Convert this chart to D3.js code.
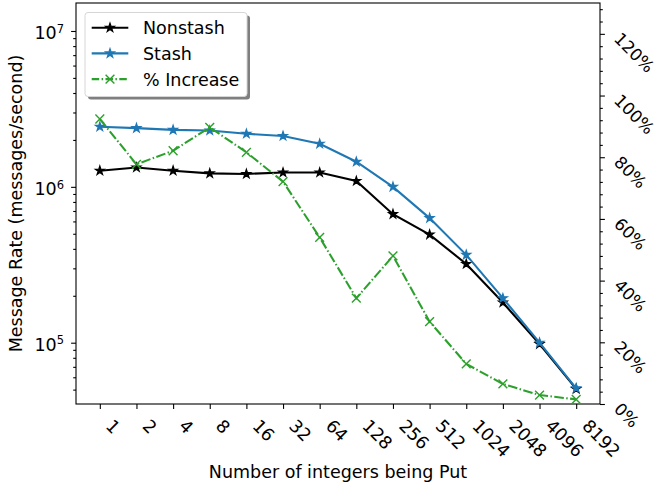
<!DOCTYPE html>
<html>
<head>
<meta charset="utf-8">
<script src="https://cdn.jsdelivr.net/npm/d3@7"></script>
<style>
body { margin: 0; background: #fff; }
text { font-family: "DejaVu Sans", sans-serif; fill: #000; }
</style>
</head>
<body>
<div id="chart"></div>
<script>
// data
const categories = ["1", "2", "4", "8", "16", "32", "64", "128", "256", "512", "1024", "2048", "4096", "8192"];
const nonstash = [1.27e6, 1.33e6, 1.27e6, 1.22e6, 1.21e6, 1.235e6, 1.235e6, 1.09e6, 6.68e5, 4.94e5, 3.2e5, 1.81e5, 9.8e4, 5.05e4];
const stash = [2.43e6, 2.38e6, 2.32e6, 2.30e6, 2.19e6, 2.12e6, 1.89e6, 1.45e6, 1.0e6, 6.3e5, 3.66e5, 1.93e5, 1.0e5, 5.1e4];
const increase = [92.4, 77.7, 82.1, 89.7, 81.6, 72.1, 54.0, 34.3, 48.0, 26.7, 13.0, 6.5, 2.9, 1.5];
const rateTicks = [1e5, 1e6, 1e7];
const pctTicks = [0, 20, 40, 60, 80, 100, 120];

const W = 657, H = 487;
const box = {left: 76, right: 600, top: 3, bottom: 404};
const fs = 17.5;

const svg = d3.select("#chart").append("svg")
	.attr("width", W)
	.attr("height", H);

//scales
const x = d3.scaleLinear().domain([-0.65, categories.length - 1 + 0.65]).range([box.left, box.right]);
const y = d3.scaleLog().domain([40430, 1.512e7]).range([box.bottom, box.top]);
const y2 = d3.scaleLinear().domain([0, 130]).range([box.bottom, box.top]);

//minor ticks
const logMinor = [];
for (let e = 4; e <= 7; e++) {
	for (let k = 2; k <= 9; k++) {
		const v = k * Math.pow(10, e);
		if (v > y.domain()[0] && v < y.domain()[1]) logMinor.push(v);
	}
}
const pctMinor = d3.range(0, 130, 4).filter(v => v % 20 !== 0);

function styleAxis(g) {
	g.select(".domain").remove();
	g.selectAll(".tick line").attr("stroke", "#000").attr("stroke-width", 1.1);
}

//x axis ticks + rotated labels
svg.append("g")
	.attr("transform", "translate(0," + box.bottom + ")")
	.call(d3.axisBottom(x).tickValues(d3.range(categories.length)).tickSize(4.9).tickFormat(""))
	.call(styleAxis);
svg.append("g").selectAll("text")
	.data(categories)
	.enter().append("text")
	.attr("transform", (d, i) => "translate(" + (x(i) + 5) + ",427) rotate(45)")
	.attr("font-size", fs)
	.attr("text-anchor", "start")
	.text(d => d);

//left log axis
svg.append("g")
	.attr("transform", "translate(" + box.left + ",0)")
	.call(d3.axisLeft(y).tickValues(logMinor).tickSize(2.8).tickFormat(""))
	.call(styleAxis);
svg.append("g")
	.attr("transform", "translate(" + box.left + ",0)")
	.call(d3.axisLeft(y).tickValues(rateTicks).tickSize(4.9).tickFormat(""))
	.call(styleAxis);
const rl = svg.append("g").selectAll("text")
	.data(rateTicks)
	.enter().append("text")
	.attr("x", 64)
	.attr("y", d => y(d) + 8.3)
	.attr("font-size", fs)
	.attr("text-anchor", "end");
rl.append("tspan").text("10");
rl.append("tspan")
	.attr("font-size", 11.5)
	.attr("dy", -6.6)
	.text(d => Math.round(Math.log10(d)));

//right percent axis
svg.append("g")
	.attr("transform", "translate(" + box.right + ",0)")
	.call(d3.axisRight(y2).tickValues(pctMinor).tickSize(2.8).tickFormat(""))
	.call(styleAxis);
svg.append("g")
	.attr("transform", "translate(" + box.right + ",0)")
	.call(d3.axisRight(y2).tickValues(pctTicks).tickSize(4.9).tickFormat(""))
	.call(styleAxis);
svg.append("g").selectAll("text")
	.data(pctTicks)
	.enter().append("text")
	.attr("transform", d => "translate(" + (box.right + 13) + "," + (y2(d) + 6) + ") rotate(45)")
	.attr("font-size", 16.8)
	.attr("text-anchor", "start")
	.text(d => d + "%");

//frame
svg.append("rect")
	.attr("x", box.left).attr("y", box.top)
	.attr("width", box.right - box.left).attr("height", box.bottom - box.top)
	.attr("fill", "none").attr("stroke", "#000").attr("stroke-width", 1.1);

//axis titles
svg.append("text")
	.attr("transform", "translate(22," + (box.top + box.bottom) / 2 + ") rotate(-90)")
	.attr("text-anchor", "middle")
	.attr("font-size", fs)
	.text("Message Rate (messages/second)");
svg.append("text")
	.attr("x", (box.left + box.right) / 2)
	.attr("y", 477.7)
	.attr("text-anchor", "middle")
	.attr("font-size", fs)
	.text("Number of integers being Put");

//series
const series = [
	{name: "Nonstash", values: nonstash, scale: y, color: "#000000", marker: "star", dash: null},
	{name: "Stash", values: stash, scale: y, color: "#1f77b4", marker: "star", dash: null},
	{name: "% Increase", values: increase, scale: y2, color: "#2ca02c", marker: "x", dash: "9.6,2.4,1.5,2.4"}
];

const star = d3.symbol().type(d3.symbolStar).size(24);

function drawMarker(g, kind, color) {
	if (kind === "star") {
		g.append("path")
			.attr("d", star())
			.attr("fill", color)
			.attr("stroke", color)
			.attr("stroke-width", 1.2)
			.attr("stroke-linejoin", "miter");
	} else {
		g.append("path")
			.attr("d", "M-4.4,-4.4L4.4,4.4M-4.4,4.4L4.4,-4.4")
			.attr("fill", "none")
			.attr("stroke", color)
			.attr("stroke-width", 1.4);
	}
}

series.forEach(function (s) {
	const line = d3.line()
		.x((d, i) => x(i))
		.y(d => s.scale(d));
	svg.append("path")
		.datum(s.values)
		.attr("d", line)
		.attr("fill", "none")
		.attr("stroke", s.color)
		.attr("stroke-width", 2.08)
		.attr("stroke-dasharray", s.dash);
	s.values.forEach(function (v, i) {
		const g = svg.append("g").attr("transform", "translate(" + x(i) + "," + s.scale(v) + ")");
		drawMarker(g, s.marker, s.color);
	});
});

//legend with shadow
const leg = svg.append("g").attr("transform", "translate(85,12.5)");
leg.append("rect")
	.attr("x", 3).attr("y", 3)
	.attr("width", 162).attr("height", 84)
	.attr("rx", 3)
	.attr("fill", "#7f7f7f");
leg.append("rect")
	.attr("width", 162).attr("height", 84)
	.attr("rx", 3)
	.attr("fill", "#fff")
	.attr("stroke", "#d6d6d6")
	.attr("stroke-width", 1);
series.forEach(function (s, i) {
	const ry = 15.2 + i * 25.7;
	leg.append("line")
		.attr("x1", 6.7).attr("x2", 43.3)
		.attr("y1", ry).attr("y2", ry)
		.attr("stroke", s.color)
		.attr("stroke-width", 2.08)
		.attr("stroke-dasharray", s.dash ? "7.5,2.4,1.5,2.4" : null);
	const g = leg.append("g").attr("transform", "translate(25," + ry + ")");
	drawMarker(g, s.marker, s.color);
	leg.append("text")
		.attr("x", 58)
		.attr("y", ry + 6.4)
		.attr("font-size", fs)
		.text(s.name);
});
</script>
</body>
</html>
